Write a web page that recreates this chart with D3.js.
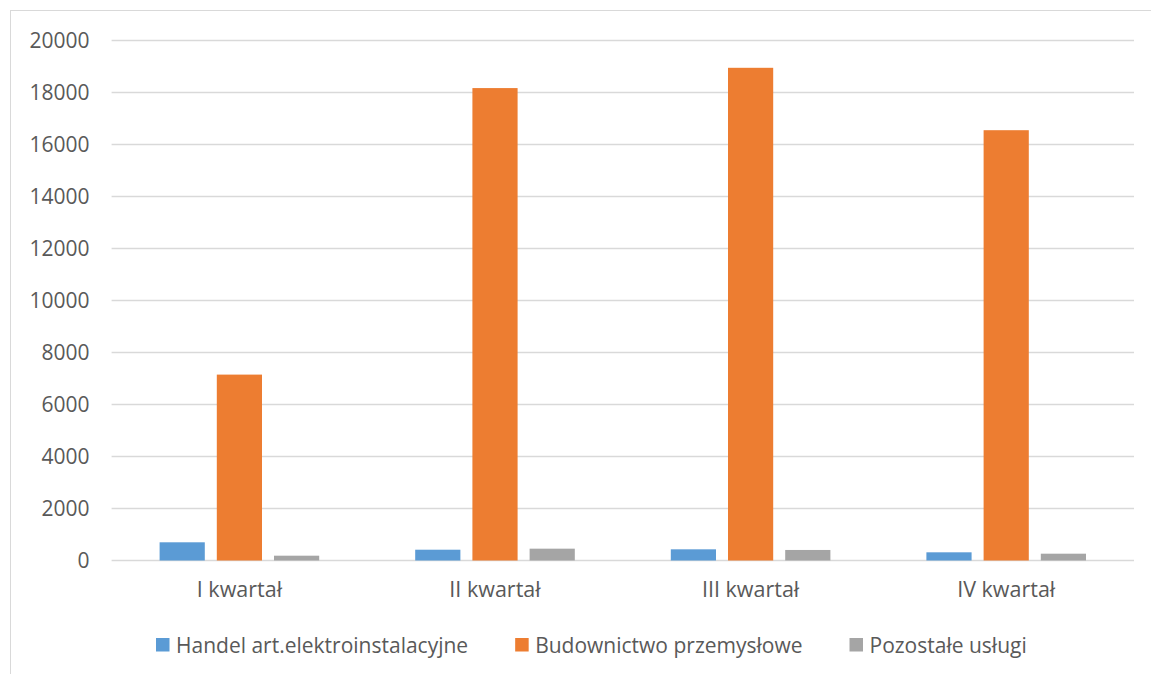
<!DOCTYPE html>
<html>
<head>
<meta charset="utf-8">
<script src="https://cdn.jsdelivr.net/npm/d3@7"></script>
<style>
  body { margin: 0; background: #fff; }
  svg { display: block; font-family: "Open Sans", sans-serif; }
</style>
</head>
<body>
<svg class="bar-chart"></svg>
<script>
const categories = ['I kwartał', 'II kwartał', 'III kwartał', 'IV kwartał'];
const seriesNames = ['Handel art.elektroinstalacyjne', 'Budownictwo przemysłowe', 'Pozostałe usługi'];
const handel = [700, 415, 430, 315];
const budownictwo = [7150, 18170, 18950, 16550];
const pozostale = [185, 455, 405, 262];
const yTicks = [0, 2000, 4000, 6000, 8000, 10000, 12000, 14000, 16000, 18000, 20000];
const colors = ['#5B9BD5', '#ED7D31', '#A5A5A5'];

const seriesValues = [handel, budownictwo, pozostale];

function drawChart() {
  const svgWidth = 1151, svgHeight = 674;
  const margin = { top: 40.5, right: 17, bottom: 113.5, left: 111.6 };
  const width = svgWidth - margin.left - margin.right;
  const height = svgHeight - margin.top - margin.bottom;

  const svg = d3.select('svg.bar-chart')
    .attr('width', svgWidth)
    .attr('height', svgHeight);

  // chart area border (only top and left edges fall inside the window)
  svg.append('rect')
    .attr('x', 10.5)
    .attr('y', 10.5)
    .attr('width', 1200)
    .attr('height', 700)
    .attr('fill', 'none')
    .attr('stroke', '#d9d9d9')
    .attr('stroke-width', 1);

  const g = svg.append('g')
    .attr('transform', `translate(${margin.left}, ${margin.top})`);

  const x0 = d3.scaleBand()
    .domain(categories)
    .range([0, width])
    .paddingInner(0)
    .paddingOuter(0);

  const x1 = d3.scaleBand()
    .domain(seriesNames)
    .range([48, x0.bandwidth() - 48])
    .paddingInner(0.21)
    .paddingOuter(0);

  const y = d3.scaleLinear()
    .domain([0, 20000])
    .range([height, 0]);

  // grid lines
  g.append('g')
    .selectAll('line')
    .data(yTicks)
    .join('line')
    .attr('x1', 0)
    .attr('x2', width)
    .attr('y1', d => y(d))
    .attr('y2', d => y(d))
    .attr('stroke', '#d9d9d9')
    .attr('stroke-width', 1.3);

  // y axis labels
  const yAxis = g.append('g')
    .call(d3.axisLeft(y).tickValues(yTicks).tickSize(0).tickPadding(22).tickFormat(d3.format('d')));
  yAxis.select('.domain').remove();
  yAxis.selectAll('text')
    .attr('fill', '#595959')
    .style('font-size', '21px')
    .style('font-family', '"Open Sans", sans-serif');

  // bars
  const rows = categories.map((c, i) => ({
    category: c,
    values: seriesNames.map((s, j) => ({ series: s, value: seriesValues[j][i], color: colors[j] }))
  }));

  g.append('g')
    .selectAll('g')
    .data(rows)
    .join('g')
    .attr('transform', d => `translate(${x0(d.category)}, 0)`)
    .selectAll('rect')
    .data(d => d.values)
    .join('rect')
    .attr('x', d => x1(d.series))
    .attr('width', x1.bandwidth())
    .attr('y', d => y(d.value))
    .attr('height', d => y(0) - y(d.value))
    .attr('fill', d => d.color);

  // x axis labels
  const xAxis = g.append('g')
    .attr('transform', `translate(0, ${height})`)
    .call(d3.axisBottom(x0).tickSize(0).tickPadding(21));
  xAxis.select('.domain').remove();
  xAxis.selectAll('text')
    .attr('fill', '#595959')
    .style('font-size', '21.5px')
    .style('font-family', '"Open Sans", sans-serif');

  // legend
  const legend = svg.append('g')
    .attr('transform', 'translate(156, 638)');
  let lx = 0;
  seriesNames.forEach((name, i) => {
    const item = legend.append('g').attr('transform', `translate(${lx}, 0)`);
    item.append('rect')
      .attr('width', 13.5)
      .attr('height', 13.5)
      .attr('fill', colors[i]);
    const t = item.append('text')
      .attr('x', 20)
      .attr('y', 14.5)
      .attr('fill', '#595959')
      .style('font-size', '21px')
      .text(name);
    lx += 20 + t.node().getComputedTextLength() + 47;
  });
}

drawChart();
</script>
</body>
</html>
